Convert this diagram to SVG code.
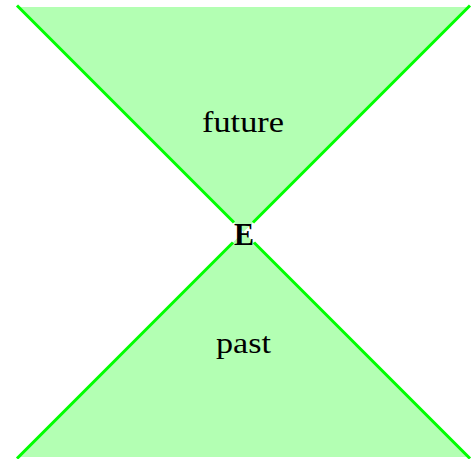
<svg xmlns="http://www.w3.org/2000/svg" width="475" height="459" viewBox="0 0 475 459">
<style>
.cone{fill:#b3ffb3;stroke:none}
.edge{stroke:#00ff00;stroke-width:3;fill:none;stroke-linecap:butt}
.lbl{font-family:"Liberation Serif",serif;font-size:30px;fill:#000;text-anchor:middle}
</style>
<g id="future">
<polygon class="cone" points="17,7 470,7 243.5,232"/>
<text class="lbl" x="243" y="132" textLength="82" lengthAdjust="spacingAndGlyphs">future</text>
</g>
<g id="past">
<polygon class="cone" points="17,457 470,457 243.5,232"/>
<text class="lbl" x="243.5" y="353" textLength="55" lengthAdjust="spacingAndGlyphs">past</text>
</g>
<g id="connectors">
<line class="edge" x1="17" y1="5.5" x2="234" y2="222.5"/>
<line class="edge" x1="470" y1="5.5" x2="253" y2="222.5"/>
<line class="edge" x1="17" y1="458.5" x2="233" y2="242.5"/>
<line class="edge" x1="470" y1="458.5" x2="254" y2="242.5"/>
</g>
<g id="E">
<text class="lbl" x="244" y="244.5" textLength="20" lengthAdjust="spacingAndGlyphs" style="font-weight:bold;font-size:31px">E</text>
</g>
</svg>
